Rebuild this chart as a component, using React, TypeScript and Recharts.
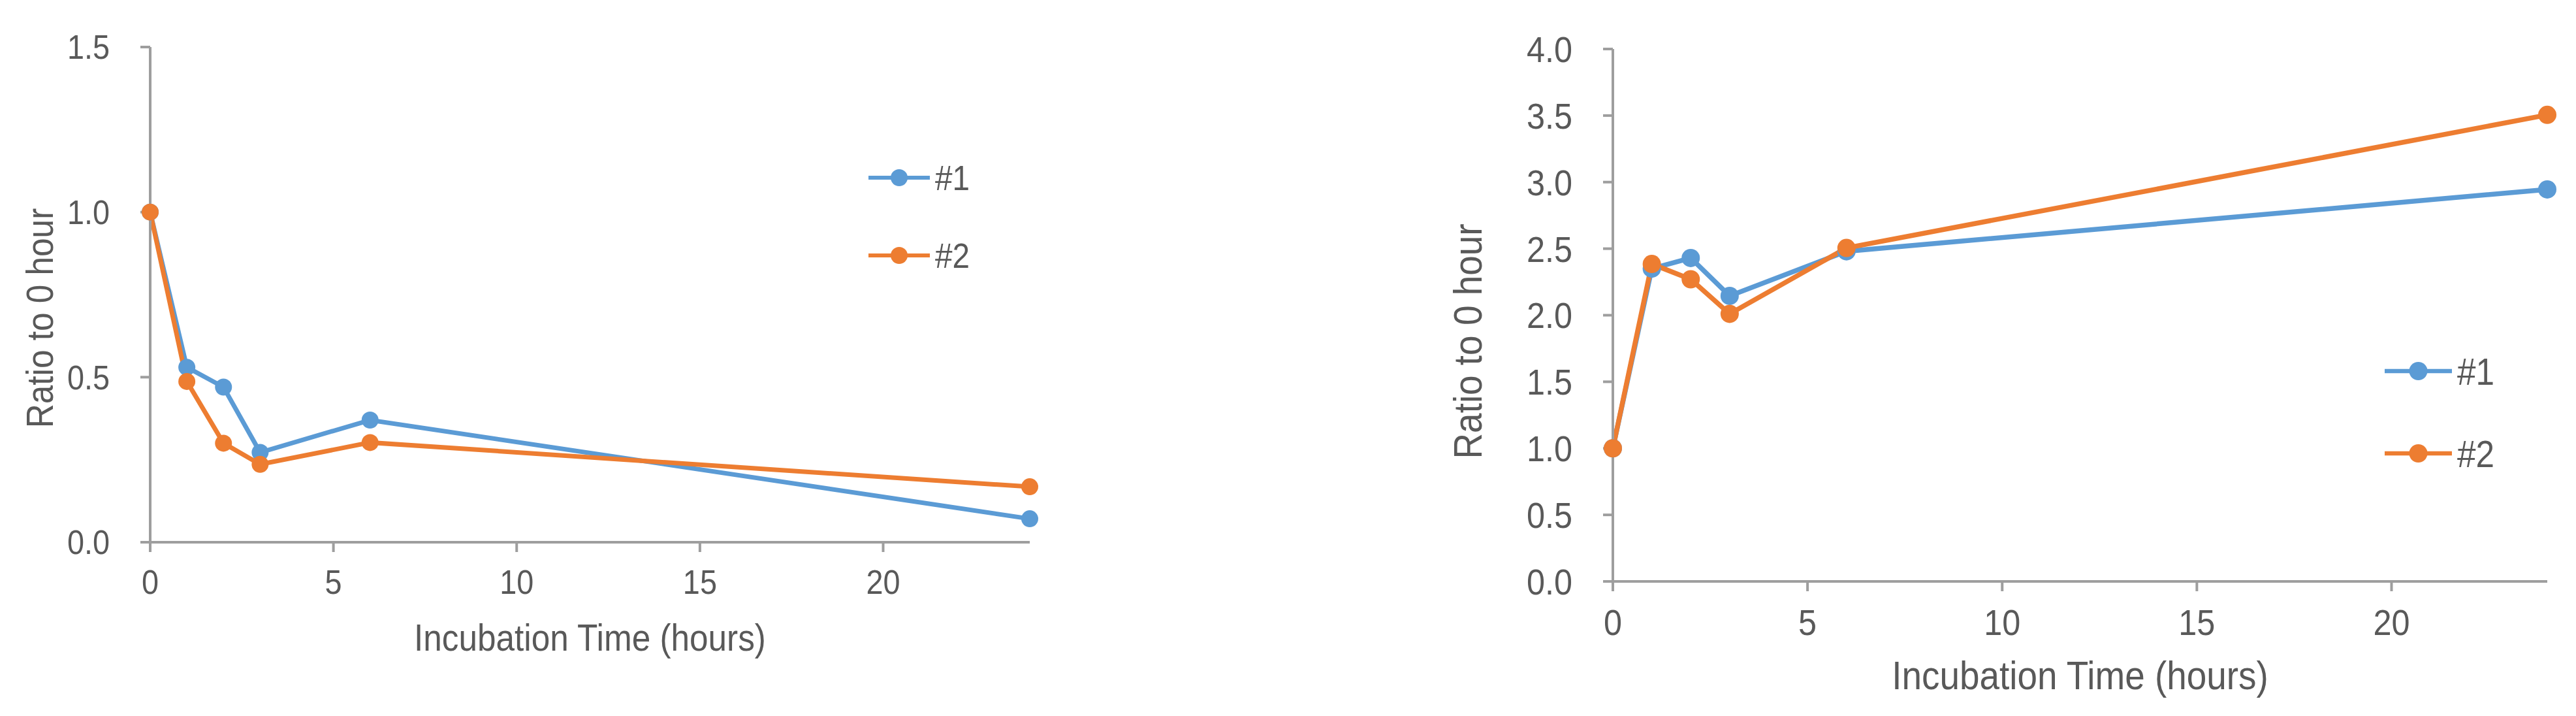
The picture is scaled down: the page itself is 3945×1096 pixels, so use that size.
import React from 'react'
import { LineChart, Line, XAxis, YAxis, Legend, Label } from 'recharts'

// incubation time points (hours)
const hours = [0, 1, 2, 3, 6, 24]
const xTicks = [0, 5, 10, 15, 20]

// left panel
const leftSeries1 = [1.0, 0.53, 0.47, 0.272, 0.37, 0.071]
const leftSeries2 = [1.0, 0.487, 0.3, 0.236, 0.302, 0.168]
const leftYTicks = [0, 0.5, 1.0, 1.5]

// right panel
const rightSeries1 = [1.0, 2.35, 2.43, 2.145, 2.48, 2.945]
const rightSeries2 = [1.0, 2.385, 2.27, 2.01, 2.505, 3.505]
const rightYTicks = [0, 0.5, 1.0, 1.5, 2.0, 2.5, 3.0, 3.5, 4.0]

const seriesNames = ['#1', '#2']
const xTitle = 'Incubation Time (hours)'
const yTitle = 'Ratio to 0 hour'

const BLUE = '#5B9BD5'
const ORANGE = '#ED7D31'
const AXIS = '#9E9E9E'
const TEXT = '#595959'
const FONT = '"Liberation Sans", Arial, sans-serif'
const SQUEEZE = 0.9 // text in the original is a bit narrower than Arial

const buildRows = (a: number[], b: number[]) =>
  hours.map((t, i) => ({ t, s1: a[i], s2: b[i] }))

// text drawn slightly condensed around its anchor point
const NarrowText = ({ x, y, size, anchor, dy, rotate, children }: any) => (
  <text transform={`translate(${x},${y})${rotate ? ` rotate(${rotate})` : ''} scale(${SQUEEZE},1)`}
    x={0} y={0} dy={dy} textAnchor={anchor} fill={TEXT} fontSize={size}>{children}</text>
)

const Panel = (pp: any) => {

  const XTick = ({ x, y, payload }: any) => (
    <NarrowText x={x} y={y} size={pp.tickFont} anchor="middle" dy="0.71em">{payload.value}</NarrowText>
  )

  const YTick = ({ x, y, payload }: any) => (
    <NarrowText x={x} y={y} size={pp.tickFont} anchor="end" dy="0.355em">{Number(payload.value).toFixed(1)}</NarrowText>
  )

  const renderXTitle = (props: any) => {
    const vb = props.viewBox
    return (
      <NarrowText x={vb.x + vb.width / 2} y={vb.y + vb.height - pp.xTitleOffset} size={pp.titleFont} anchor="middle" dy={0}>
        {xTitle}
      </NarrowText>
    )
  }

  const renderYTitle = (props: any) => {
    const vb = props.viewBox
    return (
      <NarrowText x={vb.x + pp.yTitleDx} y={vb.y + vb.height / 2 + pp.yTitleDy} size={pp.titleFont}
        anchor="middle" dy="0.36em" rotate={-90}>
        {yTitle}
      </NarrowText>
    )
  }

  const renderLegend = ({ payload }: any) => {
    const items = payload || []
    return (
      <svg width={pp.legendLine + 140} height={pp.legendGap * 2 + 40}>
        {items.map((it: any, i: number) => {
          const cy = 40 + i * pp.legendGap
          return (
            <g key={i}>
              <line x1={10} x2={10 + pp.legendLine} y1={cy} y2={cy} stroke={it.color} strokeWidth={pp.lineWidth - 1} />
              <circle cx={10 + pp.legendLine / 2} cy={cy} r={pp.dotR} fill={it.color} />
              <NarrowText x={18 + pp.legendLine} y={cy} size={pp.legendFont} anchor="start" dy="0.36em">{it.value}</NarrowText>
            </g>
          )
        })}
      </svg>
    )
  }

  return (
    <LineChart width={pp.width} height={pp.height} data={pp.rows} margin={pp.margin}>
      <XAxis dataKey="t" type="number" domain={[0, 24]} ticks={xTicks} height={pp.xAxisHeight}
        axisLine={{ stroke: AXIS, strokeWidth: 4 }} tickLine={{ stroke: AXIS, strokeWidth: 4 }}
        tickSize={15} tickMargin={27} tick={<XTick />}>
        <Label content={renderXTitle} />
      </XAxis>
      <YAxis type="number" domain={[pp.yTicks[0], pp.yTicks[pp.yTicks.length - 1]]} ticks={pp.yTicks}
        width={pp.yAxisWidth}
        axisLine={{ stroke: AXIS, strokeWidth: 4 }} tickLine={{ stroke: AXIS, strokeWidth: 4 }}
        tickSize={15} tickMargin={47} tick={<YTick />}>
        <Label content={renderYTitle} />
      </YAxis>
      <Legend layout="vertical" align="center" verticalAlign="middle" content={renderLegend}
        wrapperStyle={{ left: pp.legendLeft, top: pp.legendTop, width: pp.legendLine + 140 }} />
      <Line type="linear" dataKey="s1" name={seriesNames[0]} stroke={BLUE} strokeWidth={pp.lineWidth}
        dot={{ r: pp.dotR, fill: BLUE, stroke: BLUE, strokeWidth: 0 }} activeDot={false} isAnimationActive={false} />
      <Line type="linear" dataKey="s2" name={seriesNames[1]} stroke={ORANGE} strokeWidth={pp.lineWidth}
        dot={{ r: pp.dotR, fill: ORANGE, stroke: ORANGE, strokeWidth: 0 }} activeDot={false} isAnimationActive={false} />
    </LineChart>
  )
}

const App = () => {
  return (
    <div style={{ position: 'absolute', left: 0, top: 0, width: 3945, height: 1096, background: '#fff', fontFamily: FONT }}>
      <div style={{ position: 'absolute', left: 0, top: 0 }}>
        <Panel rows={buildRows(leftSeries1, leftSeries2)} yTicks={leftYTicks}
          width={1700} height={1096} margin={{ top: 72, right: 123, bottom: 86, left: 20 }}
          yAxisWidth={210} xAxisHeight={180} tickFont={52} titleFont={57} legendFont={53}
          yTitleDx={40} yTitleDy={36} xTitleOffset={14}
          legendLeft={1320} legendTop={232} legendLine={94} legendGap={119}
          lineWidth={7} dotR={13} />
      </div>
      <div style={{ position: 'absolute', left: 2150, top: 0 }}>
        <Panel rows={buildRows(rightSeries1, rightSeries2)} yTicks={rightYTicks}
          width={1795} height={1096} margin={{ top: 75, right: 44, bottom: 36, left: 40 }}
          yAxisWidth={280} xAxisHeight={170} tickFont={56} titleFont={61} legendFont={57}
          yTitleDx={57} yTitleDy={40} xTitleOffset={5}
          legendLeft={1492} legendTop={528} legendLine={103} legendGap={126}
          lineWidth={7.5} dotR={14} />
      </div>
    </div>
  )
}

export default App
